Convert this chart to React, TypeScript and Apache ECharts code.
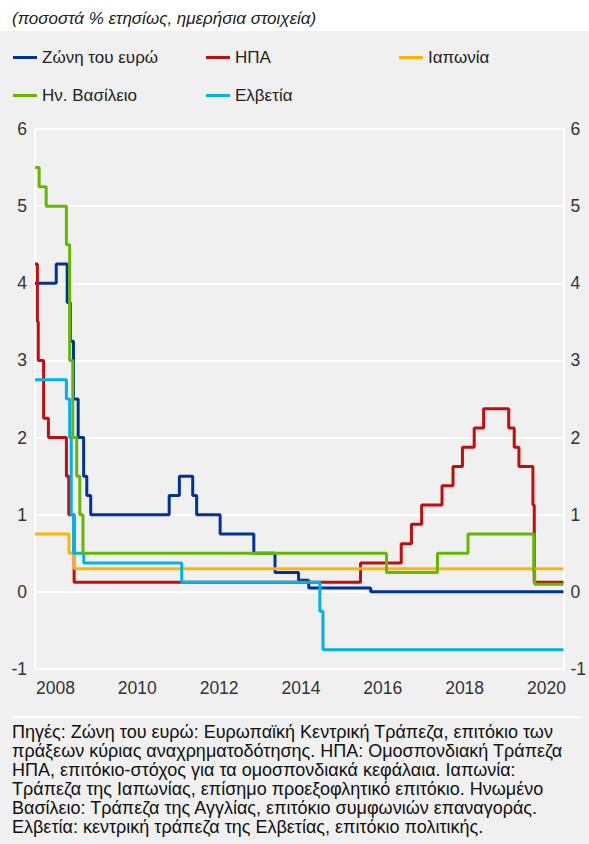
import React, { useEffect, useRef } from "react";
import * as echarts from "echarts";

// ---- Data (change dates and policy rates, % per annum) ----
const START_DATE = "2008-01-01";
const END_DATE = "2020-12-01";

const seriesNames = ["Ζώνη του ευρώ", "ΗΠΑ", "Ιαπωνία", "Ην. Βασίλειο", "Ελβετία"];
const seriesColors = ["#003299", "#c00e0e", "#ffb400", "#65b800", "#00b1ea"];

const euroDates = ["2008-01-01", "2008-07-09", "2008-10-15", "2008-11-12", "2008-12-10", "2009-01-21", "2009-03-11", "2009-04-08", "2009-05-13", "2011-04-13", "2011-07-13", "2011-11-09", "2011-12-14", "2012-07-11", "2013-05-08", "2013-11-13", "2014-06-11", "2014-09-10", "2016-03-16"];
const euroRates = [4.0, 4.25, 3.75, 3.25, 2.5, 2.0, 1.5, 1.25, 1.0, 1.25, 1.5, 1.25, 1.0, 0.75, 0.5, 0.25, 0.15, 0.05, 0.0];

const usDates = ["2008-01-01", "2008-01-22", "2008-01-30", "2008-03-18", "2008-04-30", "2008-10-08", "2008-10-29", "2008-12-16", "2015-12-16", "2016-12-14", "2017-03-15", "2017-06-14", "2017-12-13", "2018-03-21", "2018-06-13", "2018-09-26", "2018-12-19", "2019-07-31", "2019-09-18", "2019-10-30", "2020-03-03", "2020-03-15"];
const usRates = [4.25, 3.5, 3.0, 2.25, 2.0, 1.5, 1.0, 0.125, 0.375, 0.625, 0.875, 1.125, 1.375, 1.625, 1.875, 2.125, 2.375, 2.125, 1.875, 1.625, 1.125, 0.125];

const japanDates = ["2008-01-01", "2008-10-31", "2008-12-19"];
const japanRates = [0.75, 0.5, 0.3];

const ukDates = ["2008-01-01", "2008-02-07", "2008-04-10", "2008-10-08", "2008-11-06", "2008-12-04", "2009-01-08", "2009-02-05", "2009-03-05", "2016-08-04", "2017-11-02", "2018-08-02", "2020-03-11", "2020-03-19"];
const ukRates = [5.5, 5.25, 5.0, 4.5, 3.0, 2.0, 1.5, 1.0, 0.5, 0.25, 0.5, 0.75, 0.25, 0.1];

const swissDates = ["2008-01-01", "2008-10-08", "2008-11-06", "2008-11-20", "2008-12-11", "2009-03-12", "2011-08-03", "2014-12-18", "2015-01-15"];
const swissRates = [2.75, 2.5, 2.0, 1.0, 0.5, 0.375, 0.125, -0.25, -0.75];

const yearLabels = [2008, 2010, 2012, 2014, 2016, 2018, 2020];
const yMin = -1;
const yMax = 6;

const titleText = "(ποσοστά % ετησίως, ημερήσια στοιχεία)";
const footnoteLines = [
  "Πηγές: Ζώνη του ευρώ: Ευρωπαϊκή Κεντρική Τράπεζα, επιτόκιο των",
  "πράξεων κύριας αναχρηματοδότησης. ΗΠΑ: Ομοσπονδιακή Τράπεζα",
  "ΗΠΑ, επιτόκιο-στόχος για τα ομοσπονδιακά κεφάλαια. Ιαπωνία:",
  "Τράπεζα της Ιαπωνίας, επίσημο προεξοφλητικό επιτόκιο. Ηνωμένο",
  "Βασίλειο: Τράπεζα της Αγγλίας, επιτόκιο συμφωνιών επαναγοράς.",
  "Ελβετία: κεντρική τράπεζα της Ελβετίας, επιτόκιο πολιτικής.",
];

function toYear(d: string): number {
  const [y, m, dd] = d.split("-").map(Number);
  const s = Date.UTC(y, 0, 1);
  const e = Date.UTC(y + 1, 0, 1);
  return y + (Date.UTC(y, m - 1, dd) - s) / (e - s);
}

function build(dates: string[], rates: number[]): number[][] {
  const pts = dates.map((d, i) => [toYear(d), rates[i]]);
  pts.push([toYear(END_DATE), rates[rates.length - 1]]);
  return pts;
}

const allDates = [euroDates, usDates, japanDates, ukDates, swissDates];
const allRates = [euroRates, usRates, japanRates, ukRates, swissRates];

const FONT = '"Liberation Sans", Arial, Helvetica, sans-serif';

export default function App() {
  const ref = useRef<HTMLDivElement>(null);
  useEffect(() => {
    if (!ref.current) return;
    const chart = echarts.init(ref.current, null, { renderer: "svg" });
    const legendPos = [
      { left: 13, top: 49 },
      { left: 206, top: 49 },
      { left: 399, top: 49 },
      { left: 13, top: 87 },
      { left: 206, top: 87 },
    ];
    const option: any = {
      animation: false,
      backgroundColor: "transparent",
      textStyle: { fontFamily: FONT },
      legend: seriesNames.map((n, i) => ({
        data: [n],
        left: legendPos[i].left,
        top: legendPos[i].top,
        padding: 0,
        icon: "rect",
        itemWidth: 24,
        itemHeight: 3,
        selectedMode: false,
        textStyle: { fontSize: 17, color: "#222", fontFamily: FONT },
      })),
      grid: { left: 35, right: 19, top: 129, height: 540 },
      xAxis: {
        type: "value",
        min: toYear(START_DATE),
        max: toYear(END_DATE),
        axisLine: { show: true, lineStyle: { color: "#ffffff", width: 2 } },
        axisTick: { show: false },
        splitLine: { show: false },
        axisLabel: {
          customValues: yearLabels.map((y) => y + 0.5),
          formatter: (v: number) => String(Math.floor(v)),
          color: "#333",
          fontSize: 17.5,
          margin: 10,
          fontFamily: FONT,
        },
      },
      yAxis: [
        {
          type: "value",
          position: "left",
          min: yMin,
          max: yMax,
          interval: 1,
          axisLine: { show: true, lineStyle: { color: "#ffffff", width: 2 } },
          axisTick: { show: false },
          splitLine: { show: true, lineStyle: { color: "#ffffff", width: 2 } },
          axisLabel: { color: "#333", fontSize: 17.5, margin: 8, fontFamily: FONT },
        },
        {
          type: "value",
          position: "right",
          min: yMin,
          max: yMax,
          interval: 1,
          axisLine: { show: true, lineStyle: { color: "#ffffff", width: 2 } },
          axisTick: { show: false },
          splitLine: { show: false },
          axisLabel: { color: "#333", fontSize: 17.5, margin: 7, fontFamily: FONT },
        },
      ],
      series: seriesNames.map((n, i) => ({
        name: n,
        type: "line",
        step: "end",
        showSymbol: false,
        symbol: "none",
        data: build(allDates[i], allRates[i]),
        color: seriesColors[i],
        lineStyle: { width: 3, color: seriesColors[i] },
        z: i === 3 ? 3 : 2,
      })),
      graphic: [
        {
          type: "text",
          left: 12,
          top: 10,
          style: { text: titleText, font: `italic 17px ${FONT}`, fill: "#222" },
        },
        {
          type: "line",
          shape: { x1: 12, y1: 717, x2: 582, y2: 717 },
          style: { stroke: "#ffffff", lineWidth: 2 },
        },
        {
          type: "text",
          left: 12,
          top: 722,
          style: {
            text: footnoteLines.join("\n"),
            font: `18px ${FONT}`,
            lineHeight: 19,
            fill: "#111",
          },
        },
      ],
    };
    chart.setOption(option);
    return () => chart.dispose();
  }, []);
  return (
    <div
      style={{
        position: "fixed",
        left: 0,
        top: 0,
        width: 589,
        height: 844,
        background: "linear-gradient(#ffffff 0px, #ffffff 31px, #f0f0f0 31px, #f0f0f0 100%)",
      }}
    >
      <div ref={ref} style={{ width: 589, height: 844 }} />
    </div>
  );
}
